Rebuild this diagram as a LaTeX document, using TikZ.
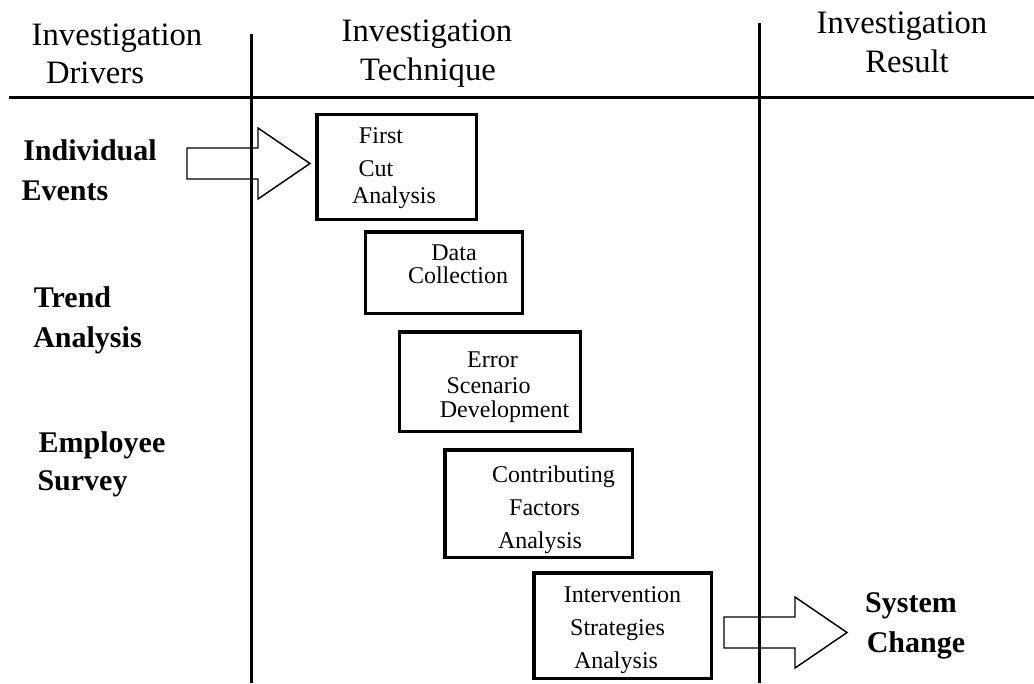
\documentclass[tikz,border=0pt]{standalone}
\usepackage{fontspec}
\setmainfont{Liberation Serif}
\begin{document}
\begin{tikzpicture}[x=0.75pt,y=-0.75pt,
  rule/.style={line width=2.25pt},
  stepbox/.style={draw,line width=2.6pt,rectangle,inner sep=0pt},
  boxtext/.style={font=\fontsize{18}{20}\selectfont,anchor=base,inner sep=0pt},
  headtext/.style={font=\fontsize{24.5}{28}\selectfont,anchor=base,inner sep=0pt},
  sidetext/.style={font=\bfseries\fontsize{22.5}{26}\selectfont,anchor=base,inner sep=0pt},
  arrowline/.style={line width=1.1pt,line join=miter},
  blockarrow/.pic={\draw[arrowline] (-123,-15.5) -- (-52,-15.5) -- (-52,-35.5) -- (0,0)
      -- (-52,35.5) -- (-52,15.5) -- (-123,15.5) -- cycle;}
]
\useasboundingbox (0,0) rectangle (1034,683);

% rules
\coordinate (hl) at (9,97);
\coordinate (hr) at (1034,97);
\coordinate (v1t) at (251,34);
\coordinate (v1b) at (251,683);
\coordinate (v2t) at (759,23);
\coordinate (v2b) at (759,683);
\draw[rule] (hl) -- (hr);
\draw[rule] (v1t) -- (v1b);
\draw[rule] (v2t) -- (v2b);

% headers
\node[headtext] (h1a) at (117,45) {Investigation};
\node[headtext] (h1b) at (95,83) {Drivers};
\node[headtext] (h2a) at (427,41) {Investigation};
\node[headtext] (h2b) at (428,80) {Technique};
\node[headtext] (h3a) at (902,33) {Investigation};
\node[headtext] (h3b) at (907,72) {Result};

% side labels
\node[sidetext] (s1a) at (90,160) {Individual};
\node[sidetext] (s1b) at (65,200) {Events};
\node[sidetext] (s2a) at (72.5,307) {Trend};
\node[sidetext] (s2b) at (87.5,347) {Analysis};
\node[sidetext] (s3a) at (102,452) {Employee};
\node[sidetext] (s3b) at (82.5,490) {Survey};
\node[sidetext] (r1a) at (911,612) {System};
\node[sidetext] (r1b) at (916,652) {Change};

% block arrows
\coordinate (tip1) at (310,163.5);
\coordinate (tip2) at (847,632.5);
\pic at (tip1) {blockarrow};
\pic at (tip2) {blockarrow};

% boxes
\node[stepbox,minimum width=119.6pt,minimum height=78.4pt] (b1) at (396.5,167) {};
\node[stepbox,minimum width=117.4pt,minimum height=61.1pt] (b2) at (444,272.5) {};
\node[stepbox,minimum width=135.4pt,minimum height=74.6pt] (b3) at (490,381.5) {};
\node[stepbox,minimum width=140.6pt,minimum height=80.6pt] (b4) at (538.5,503.5) {};
\node[stepbox,minimum width=133.1pt,minimum height=79.1pt] (b5) at (622.5,625.5) {};

% box texts
\node[boxtext] (b1l1) at (381,143) {First};
\node[boxtext] (b1l2) at (376,176) {Cut};
\node[boxtext] (b1l3) at (394,203) {Analysis};
\node[boxtext] (b2l1) at (454,260) {Data};
\node[boxtext] (b2l2) at (458,283) {Collection};
\node[boxtext] (b3l1) at (492.5,367) {Error};
\node[boxtext] (b3l2) at (488.5,393) {Scenario};
\node[boxtext] (b3l3) at (504.5,417) {Development};
\node[boxtext] (b4l1) at (553.5,482) {Contributing};
\node[boxtext] (b4l2) at (544.5,515) {Factors};
\node[boxtext] (b4l3) at (540,548) {Analysis};
\node[boxtext] (b5l1) at (622.5,602) {Intervention};
\node[boxtext] (b5l2) at (617.5,635) {Strategies};
\node[boxtext] (b5l3) at (616,668) {Analysis};
\end{tikzpicture}
\end{document}
